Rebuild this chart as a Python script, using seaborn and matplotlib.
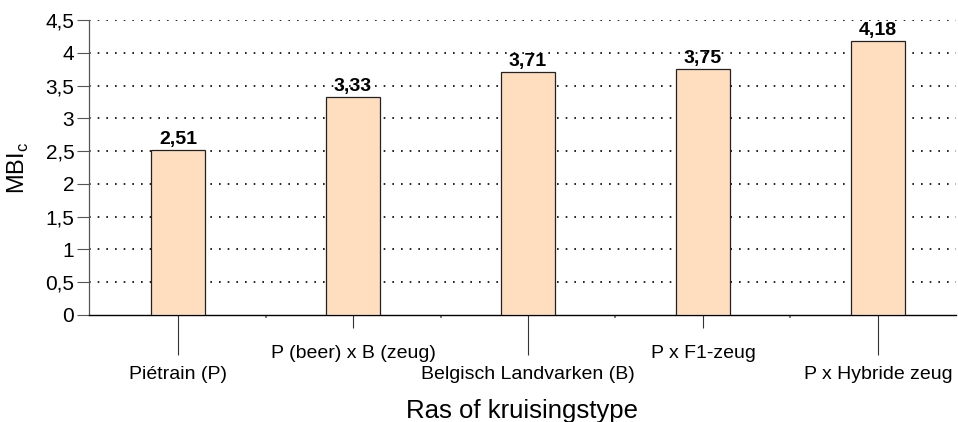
import pandas as pd
import seaborn as sns
import matplotlib.pyplot as plt

categories = ['Piétrain (P)', 'P (beer) x B (zeug)', 'Belgisch Landvarken (B)',
              'P x F1-zeug', 'P x Hybride zeug']
values = [2.51, 3.33, 3.71, 3.75, 4.18]
yticks = [0, 0.5, 1, 1.5, 2, 2.5, 3, 3.5, 4, 4.5]

df = pd.DataFrame({'ras': categories, 'mbi': values})

plt.rcParams['font.family'] = ['Liberation Sans', 'DejaVu Sans']

fig = plt.figure(figsize=(9.58, 4.22), dpi=100)
ax = fig.add_axes([89 / 958, (422 - 315) / 422, (956 - 89) / 958, 295 / 422])

sns.barplot(data=df, x='ras', y='mbi', color='#FFDEC0', width=0.31,
            edgecolor='#222222', linewidth=0.9, saturation=1, ax=ax, zorder=3)

# dotted grid
for y in yticks[1:]:
    ax.axhline(y, color='black', lw=1.2, ls=(0, (1, 4.2)), zorder=1)

ax.set_ylim(0, 4.5)
ax.set_xlim(-0.509, 4.446)
ax.set_yticks(yticks)
ax.set_yticklabels([f'{t:g}'.replace('.', ',') for t in yticks], fontsize=15)
ax.tick_params(axis='y', direction='out', length=8.6, width=0.8, color='#555555',
               pad=2, right=False)

for s in ['top', 'right']:
    ax.spines[s].set_visible(False)
ax.spines['left'].set_color('#555555')
ax.spines['left'].set_linewidth(0.9)
ax.spines['bottom'].set_color('black')
ax.spines['bottom'].set_linewidth(1.0)

# staggered category labels: long ticks (major) and short ticks (minor)
idx = list(range(len(categories)))
ax.set_xticks(idx[0::2])
ax.set_xticklabels(categories[0::2], fontsize=14)
ax.set_xticks(idx[1::2], minor=True)
ax.set_xticklabels(categories[1::2], minor=True, fontsize=14)
ax.tick_params(axis='x', which='major', direction='out', length=29, width=0.8,
               color='#333333', pad=8, top=False)
ax.tick_params(axis='x', which='minor', direction='out', length=9.4, width=0.8,
               color='#333333', pad=12.2, top=False)

# tiny marks between categories
sec = ax.secondary_xaxis('bottom')
sec.set_xticks([0.5, 1.5, 2.5, 3.5])
sec.set_xticklabels([])
sec.tick_params(length=2, width=1.2, color='#666666')
sec.spines['bottom'].set_visible(False)

# value labels
for i, v in enumerate(values):
    ax.annotate(f'{v:.2f}'.replace('.', ','), (i, v), xytext=(0, 1.5),
                textcoords='offset points', ha='center', va='bottom',
                fontsize=14, fontweight='bold')

ax.set_xlabel('Ras of kruisingstype', fontsize=18.5, labelpad=11)
ax.set_ylabel('MBI$_\\mathregular{c}$', fontsize=17, labelpad=10)

fig.savefig('out.png', dpi=100)
